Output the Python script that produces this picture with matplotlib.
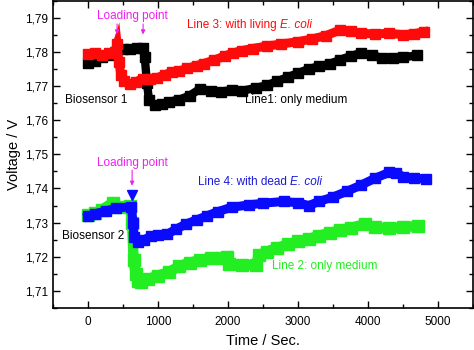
import matplotlib
matplotlib.use("Agg")
import matplotlib.pyplot as plt
from matplotlib.ticker import MultipleLocator, FuncFormatter

plt.rcParams["font.family"] = ["Liberation Sans", "DejaVu Sans"]

# Line 1: biosensor 1, only medium (black)
t1 = [0, 100, 200, 300, 400, 500, 600, 700, 780, 810, 840, 870, 950, 1050,
      1150, 1300, 1450, 1600, 1750, 1900, 2050, 2200, 2400, 2550, 2700, 2850,
      3000, 3150, 3300, 3450, 3600, 3750, 3900, 4050, 4200, 4350, 4500, 4700]
v1 = [1.7768, 1.7772, 1.7785, 1.7792, 1.7798, 1.7808, 1.7810, 1.7811, 1.7812,
      1.7785, 1.7710, 1.7660, 1.7644, 1.7648, 1.7654, 1.7660, 1.7672, 1.7692,
      1.7686, 1.7684, 1.7688, 1.7686, 1.7695, 1.7702, 1.7714, 1.7726, 1.7738,
      1.7750, 1.7758, 1.7765, 1.7777, 1.7788, 1.7797, 1.7790, 1.7783, 1.7782,
      1.7784, 1.7790]

# Line 3: biosensor 1, with living E. coli (red)
t3 = [0, 100, 200, 300, 380, 414, 440, 470, 520, 600, 680, 780, 880, 990,
      1100, 1200, 1300, 1420, 1550, 1650, 1800, 1950, 2070, 2200, 2350, 2550,
      2750, 3000, 3200, 3400, 3600, 3750, 3900, 4100, 4300, 4500, 4650, 4800]
v3 = [1.7793, 1.7797, 1.7790, 1.7796, 1.7800, 1.7822, 1.7770, 1.7732, 1.7714,
      1.7706, 1.7712, 1.7722, 1.7722, 1.7725, 1.7733, 1.7742, 1.7744, 1.7752,
      1.7760, 1.7766, 1.7776, 1.7788, 1.7797, 1.7804, 1.7810, 1.7817, 1.7823,
      1.7830, 1.7838, 1.7848, 1.7864, 1.7860, 1.7855, 1.7852, 1.7855, 1.7850,
      1.7853, 1.7859]

# Line 2: biosensor 2, only medium (green)
t2 = [0, 100, 200, 350, 450, 600, 630, 650, 680, 720, 760, 850, 1000, 1150,
      1300, 1450, 1600, 1750, 1900, 1990, 2020, 2200, 2400, 2440, 2550, 2700,
      2850, 3000, 3150, 3300, 3450, 3600, 3750, 3950, 4100, 4300, 4500, 4720]
v2 = [1.7322, 1.7328, 1.7338, 1.7358, 1.7346, 1.7348, 1.7300, 1.7190, 1.7150,
      1.7130, 1.7126, 1.7134, 1.7145, 1.7155, 1.7172, 1.7183, 1.7190, 1.7196,
      1.7196, 1.7200, 1.7180, 1.7176, 1.7176, 1.7205, 1.7215, 1.7226, 1.7236,
      1.7245, 1.7252, 1.7262, 1.7270, 1.7277, 1.7284, 1.7296, 1.7286, 1.7283,
      1.7287, 1.7290]

# Line 4: biosensor 2, with dead E. coli (blue)
t4 = [0, 100, 250, 400, 620, 640, 660, 720, 800, 900, 1000, 1130, 1250, 1400,
      1550, 1700, 1850, 2050, 2300, 2500, 2800, 3000, 3150, 3300, 3500, 3700,
      3900, 4100, 4300, 4400, 4500, 4650, 4830]
v4 = [1.7318, 1.7326, 1.7334, 1.7342, 1.7347, 1.7300, 1.7258, 1.7242, 1.7250,
      1.7260, 1.7263, 1.7266, 1.7280, 1.7296, 1.7308, 1.7320, 1.7332, 1.7345,
      1.7352, 1.7357, 1.7362, 1.7358, 1.7350, 1.7362, 1.7375, 1.7392, 1.7410,
      1.7430, 1.7447, 1.7445, 1.7435, 1.7430, 1.7428]

load_t = [414, 786]     # biosensor 1 loading points
load_t2 = 629           # biosensor 2 loading point

RED, BLACK, GREEN, BLUE = "#ff0a0a", "black", "#22ee22", "#0a0aff"
MAGENTA = "#f020f0"

fig = plt.figure(figsize=(4.74, 3.5), dpi=100)
ax = fig.add_axes([0.112, 0.12, 0.886, 0.878])

kw = dict(solid_capstyle="projecting", solid_joinstyle="miter", marker="s")
ax.plot(t2, v2, color=GREEN, lw=7.5, markersize=8, **kw)
ax.plot(t4, v4, color=BLUE, lw=6.5, markersize=7, **kw)
ax.plot(t1, v1, color=BLACK, lw=6, markersize=7, **kw)
ax.plot(t3, v3, color=RED, lw=6.5, markersize=7, **kw)
ax.plot([load_t2], [1.7382], marker="v", color=BLUE, markersize=7)

ax.set_xlim(-500, 5500)
ax.set_ylim(1.705, 1.795)
ax.xaxis.set_major_locator(MultipleLocator(1000))
ax.xaxis.set_minor_locator(MultipleLocator(500))
ax.yaxis.set_major_locator(MultipleLocator(0.01))
ax.yaxis.set_minor_locator(MultipleLocator(0.005))
ax.yaxis.set_major_formatter(FuncFormatter(lambda v, p: f"{v:.2f}".replace(".", ",")))
ax.tick_params(which="both", direction="in", top=True, right=True, labelsize=8.5)
ax.tick_params(which="major", length=5, width=1)
ax.tick_params(which="minor", length=3, width=1)
ax.tick_params(axis="x", pad=6)
for s in ax.spines.values():
    s.set_linewidth(1.2)

ax.set_xlabel("Time / Sec.", fontsize=10.5, labelpad=4)
ax.set_ylabel("Voltage / V", fontsize=10.5, labelpad=3)

# 加样点标注
arrow = dict(arrowstyle="-|>", color=MAGENTA, lw=0.8, mutation_scale=6)
ax.text(630, 1.7905, "Loading point", color=MAGENTA, fontsize=8.5, ha="center", va="center")
for t in load_t:
    ax.annotate("", xy=(t, 1.7843), xytext=(t, 1.7890), arrowprops=arrow)
ax.text(630, 1.7476, "Loading point", color=MAGENTA, fontsize=8.5, ha="center", va="center")
ax.annotate("", xy=(load_t2, 1.7400), xytext=(load_t2, 1.7462), arrowprops=arrow)

ax.text(-330, 1.7660, "Biosensor 1", color=BLACK, fontsize=8.5, ha="left", va="center")
ax.text(2240, 1.7660, "Line1: only medium", color=BLACK, fontsize=8.5, ha="left", va="center")
ax.text(-370, 1.7260, "Biosensor 2", color=BLACK, fontsize=8.5, ha="left", va="center")
ax.text(2630, 1.7172, "Line 2: only medium", color=GREEN, fontsize=8.5, ha="left", va="center")

# 正体文字 + 斜体菌名
fig.canvas.draw()
r = fig.canvas.get_renderer()
for x0, y, txt, col in [(1420, 1.7880, "Line 3: with living ", RED),
                        (1570, 1.7420, "Line 4: with dead ", "#1a1ad8")]:
    t = ax.text(x0, y, txt, color=col, fontsize=8.5, ha="left", va="center")
    bb = t.get_window_extent(r)
    xe = ax.transData.inverted().transform((bb.x1, bb.y0))[0]
    ax.text(xe, y, "E. coli", color=col, fontsize=8.5, style="italic",
            ha="left", va="center")

fig.savefig("out.png", dpi=100)
